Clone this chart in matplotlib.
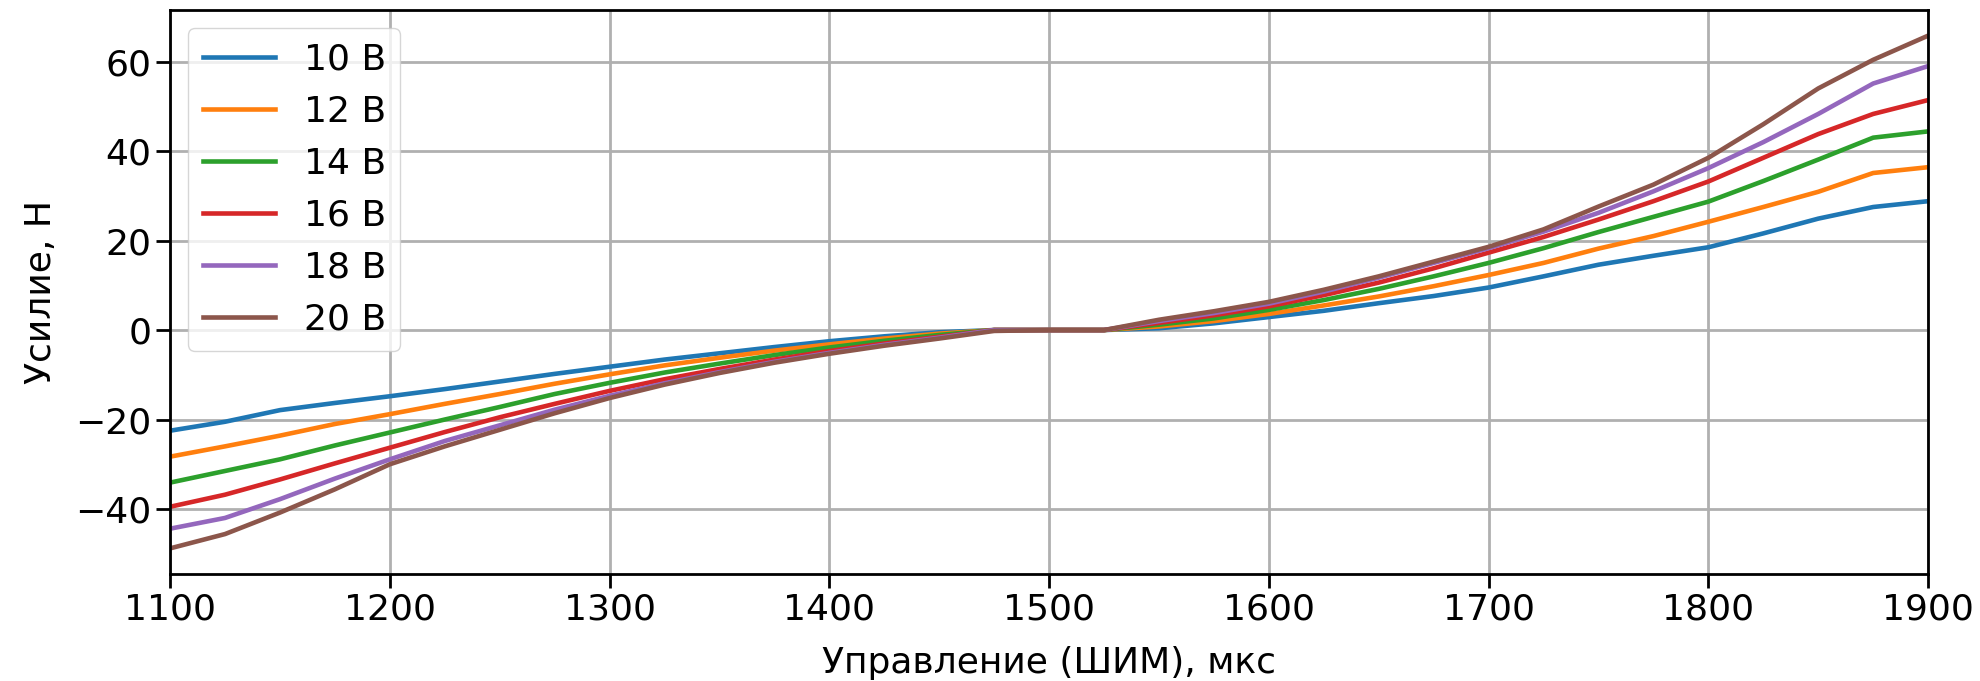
import matplotlib
matplotlib.use("Agg")
import matplotlib.pyplot as plt

# управление, мкс
pwm = [1100, 1125, 1150, 1175, 1200, 1225, 1250, 1275, 1300, 1325, 1350,
       1375, 1400, 1425, 1450, 1475, 1500, 1525, 1550, 1575, 1600, 1625,
       1650, 1675, 1700, 1725, 1750, 1775, 1800, 1825, 1850, 1875, 1900]

f_10v = [-22.5, -20.5, -17.9, -16.3, -14.8, -13.2, -11.5, -9.8, -8.2, -6.6, -5.2,
         -3.8, -2.5, -1.4, -0.5, 0, 0, 0, 0.4, 1.5, 2.9, 4.3,
         6.0, 7.6, 9.5, 12.0, 14.6, 16.6, 18.5, 21.6, 24.9, 27.5, 28.8]
f_12v = [-28.3, -26.0, -23.6, -21.0, -18.8, -16.5, -14.3, -12.0, -9.9, -7.9, -6.2,
         -4.6, -3.2, -1.9, -0.8, 0, 0, 0, 0.8, 2.0, 3.6, 5.5,
         7.5, 9.8, 12.3, 15.0, 18.2, 21.0, 24.2, 27.5, 30.9, 35.1, 36.4]
f_14v = [-34.1, -31.5, -28.9, -25.8, -22.9, -20.0, -17.2, -14.3, -11.8, -9.5, -7.5,
         -5.6, -3.9, -2.4, -1.1, 0, 0, 0, 1.2, 2.6, 4.5, 6.7,
         9.2, 12.0, 15.0, 18.3, 21.9, 25.3, 28.7, 33.3, 38.1, 43.0, 44.4]
f_16v = [-39.5, -36.8, -33.4, -29.8, -26.3, -22.8, -19.5, -16.5, -13.6, -11.0, -8.7,
         -6.6, -4.7, -3.0, -1.5, 0, 0, 0, 1.6, 3.3, 5.3, 7.8,
         10.6, 13.8, 17.3, 20.8, 24.7, 28.8, 33.2, 38.5, 43.8, 48.3, 51.4]
f_18v = [-44.4, -42.0, -37.8, -33.2, -28.9, -24.8, -21.3, -17.8, -14.7, -11.9, -9.4,
         -7.1, -5.1, -3.3, -1.7, 0, 0, 0, 2.0, 3.8, 5.9, 8.6,
         11.7, 15.0, 18.3, 22.0, 26.2, 31.0, 36.2, 42.0, 48.3, 55.1, 59.0]
f_20v = [-48.8, -45.6, -40.8, -35.6, -30.0, -26.0, -22.3, -18.6, -15.2, -12.2, -9.6,
         -7.3, -5.3, -3.5, -1.9, -0.2, 0, 0, 2.3, 4.2, 6.3, 9.0,
         12.0, 15.3, 18.6, 22.5, 27.6, 32.5, 38.5, 46.0, 54.0, 60.4, 65.8]

series = [f_10v, f_12v, f_14v, f_16v, f_18v, f_20v]
labels = ["10 В", "12 В", "14 В", "16 В", "18 В", "20 В"]

plt.rcParams["font.family"] = ["DejaVu Sans"]
plt.rcParams["font.size"] = 26

fig = plt.figure(figsize=(19.8, 6.81), dpi=100)
ax = fig.add_axes([0.0859, 0.1571, 0.8879, 0.8282])

for vals, lab in zip(series, labels):
    ax.plot(pwm, vals, linewidth=3.3, label=lab)

ax.set_xlim(1100, 1900)
ax.grid(True, color="#b0b0b0", linewidth=2)
ax.set_xlabel("Управление (ШИМ), мкс", labelpad=14)
ax.set_ylabel("Усилие, Н", labelpad=12)
ax.tick_params(width=2, length=10)
for s in ax.spines.values():
    s.set_linewidth(2)
ax.legend(loc="upper left")

fig.savefig("out.png", dpi=100)
